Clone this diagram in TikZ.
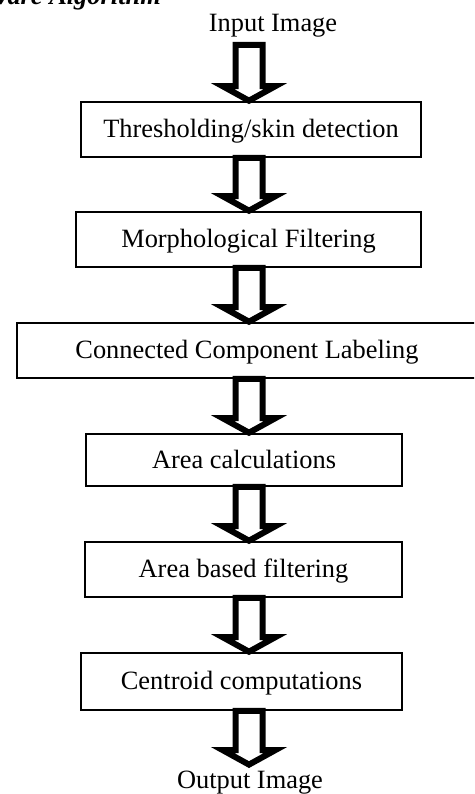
\documentclass[tikz,border=0pt]{standalone}
\usepackage{fontspec}
\setmainfont{Liberation Serif}
\usetikzlibrary{calc}
\begin{document}
\begin{tikzpicture}[x=1pt,y=1pt,
  stepbox/.style={draw=black, line width=1.8pt, rectangle, inner sep=0pt,
    font=\fontsize{26.4}{30}\selectfont, text height=16.5pt, text depth=0pt},
  lbl/.style={font=\fontsize{26.4}{30}\selectfont, inner sep=0pt, anchor=base},
  blockarrow/.style={draw=black, fill=white, line width=6pt, line join=miter, miter limit=20,
    to path={let \p1=(\tikztostart), \p2=(\tikztotarget) in
      (\x1-13.5pt,\y1) -- (\x1+13.5pt,\y1) -- (\x1+13.5pt,\y2+15pt) -- (\x1+26.5pt,\y2+15pt)
      -- (\x1,\y2+0.4pt) -- (\x1-26.5pt,\y2+15pt) -- (\x1-13.5pt,\y2+15pt) -- cycle}}]
\useasboundingbox (0,0) rectangle (474,-794);
\clip (0,0) rectangle (474,-794);
\fill[white] (0,0) rectangle (474,-794);
\node[font=\fontsize{26.4}{30}\selectfont\bfseries\itshape, anchor=base east, inner sep=0pt] (hd) at (161,-5) {ware Algorithm};
\coordinate (ax) at (249,0);
\node[lbl] (in) at (273,-32) {Input Image};
\node[stepbox, minimum width=340, minimum height=55] (b1) at (251,-129.5) {Thresholding/skin detection};
\node[stepbox, minimum width=345, minimum height=55] (b2) at (248.5,-239.5) {Morphological Filtering};
\node[stepbox, minimum width=460, minimum height=55] (b3) at (247,-350.5) {Connected Component Labeling};
\node[stepbox, minimum width=316, minimum height=52] (b4) at (244,-460) {Area calculations};
\node[stepbox, minimum width=317, minimum height=55] (b5) at (243.5,-569.5) {Area based filtering};
\node[stepbox, minimum width=321, minimum height=57] (b6) at (241.5,-681.5) {Centroid computations};
\node[lbl] (out) at (250,-788) {Output Image};
\coordinate (a1s) at (249,-45);
\coordinate (a7e) at (249,-765);
\draw[blockarrow] (a1s) to (b1.north -| ax);
\draw[blockarrow] (b1.south -| ax) to (b2.north -| ax);
\draw[blockarrow] (b2.south -| ax) to (b3.north -| ax);
\draw[blockarrow] (b3.south -| ax) to (b4.north -| ax);
\draw[blockarrow] (b4.south -| ax) to (b5.north -| ax);
\draw[blockarrow] (b5.south -| ax) to (b6.north -| ax);
\draw[blockarrow] (b6.south -| ax) to (a7e);
\end{tikzpicture}
\end{document}
